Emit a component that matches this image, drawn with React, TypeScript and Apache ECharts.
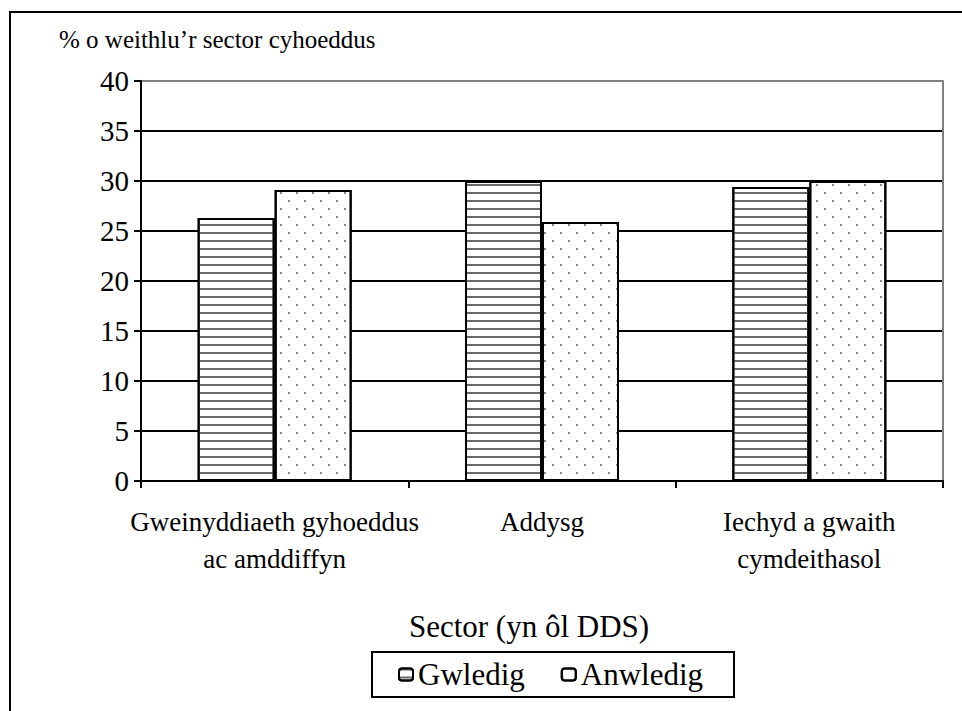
import React, { useEffect, useRef } from "react";
import * as echarts from "echarts";

const categories = [
  "Gweinyddiaeth gyhoeddus\nac amddiffyn",
  "Addysg",
  "Iechyd a gwaith\ncymdeithasol",
];
const seriesNames = ["Gwledig", "Anwledig"];
const gwledig = [26.3, 30.0, 29.4];
const anwledig = [29.1, 25.9, 30.0];
const yTicks = [0, 5, 10, 15, 20, 25, 30, 35, 40];
const yAxisTitle = "% o weithlu\u2019r sector cyhoeddus";
const xAxisTitle = "Sector (yn \u00f4l DDS)";

const FONT = "Liberation Serif";

export default function App() {
  const ref = useRef<HTMLDivElement>(null);
  useEffect(() => {
    if (!ref.current) return;
    const chart = echarts.init(ref.current, null, { renderer: "svg" });
    const splitColors = yTicks.map((t, i) => (i === yTicks.length - 1 ? "#808080" : "#000"));
    chart.setOption({
      animation: false,
      backgroundColor: "#fff",
      textStyle: { fontFamily: FONT, color: "#000" },
      title: {
        text: yAxisTitle,
        left: 54,
        top: 22,
        textStyle: { fontFamily: FONT, fontSize: 25, fontWeight: "normal", color: "#000" },
      },
      grid: { left: 141, top: 81, right: 19, bottom: 230, containLabel: false },
      legend: {
        data: seriesNames,
        left: 372,
        top: 652,
        width: 560,
        padding: [7, 31, 7, 26],
        borderColor: "#000",
        borderWidth: 2,
        itemWidth: 14,
        itemHeight: 12,
        itemGap: 36,
        textStyle: { fontFamily: FONT, fontSize: 31, color: "#000" },
      },
      xAxis: {
        type: "category",
        data: categories,
        axisLine: { lineStyle: { color: "#000", width: 2 } },
        axisTick: { show: true, length: 7, lineStyle: { color: "#000", width: 2 } },
        axisLabel: {
          interval: 0,
          margin: 22,
          fontFamily: FONT,
          fontSize: 27,
          lineHeight: 37,
          color: "#000",
        },
        name: xAxisTitle,
        nameLocation: "middle",
        nameGap: 130,
        nameTextStyle: { fontFamily: FONT, fontSize: 31, color: "#000", padding: [0, 26, 0, 0] },
      },
      yAxis: [
        {
          type: "value",
          min: 0,
          max: 40,
          interval: 5,
          axisLine: { show: true, lineStyle: { color: "#000", width: 2 } },
          axisTick: { show: true, length: 7, lineStyle: { color: "#000", width: 2 } },
          axisLabel: { margin: 12, fontFamily: FONT, fontSize: 29, color: "#000" },
          splitLine: { show: true, lineStyle: { color: splitColors, width: 2 } },
        },
        {
          type: "value",
          min: 0,
          max: 40,
          interval: 5,
          position: "right",
          axisLine: { show: true, lineStyle: { color: "#808080", width: 2 } },
          axisTick: { show: false },
          axisLabel: { show: false },
          splitLine: { show: false },
        },
      ],
      series: [
        {
          name: seriesNames[0],
          type: "bar",
          data: gwledig,
          barWidth: 77,
          barGap: "0%",
          itemStyle: {
            color: "#fff",
            borderColor: "#000",
            borderWidth: 2,
            decal: {
              symbol: "rect",
              symbolSize: 1,
              color: "#6a6a6a",
              dashArrayX: [1, 0],
              dashArrayY: [2, 6],
              rotation: 0,
            },
          },
        },
        {
          name: seriesNames[1],
          type: "bar",
          data: anwledig,
          barWidth: 77,
          barGap: "0%",
          itemStyle: {
            color: "#fff",
            borderColor: "#000",
            borderWidth: 2,
            decal: {
              symbol: "rect",
              symbolSize: 1,
              color: "#8a8a8a",
              dashArrayX: [
                [2, 14],
                [0, 8, 2, 6],
              ],
              dashArrayY: [2, 6],
              rotation: 0,
            },
          },
        },
      ],
      graphic: [
        {
          type: "rect",
          shape: { x: 10, y: 12, width: 980, height: 720 },
          style: { fill: "none", stroke: "#000", lineWidth: 2 },
          silent: true,
        },
      ],
    });
    return () => chart.dispose();
  }, []);
  return (
    <div
      ref={ref}
      style={{ position: "absolute", left: 0, top: 0, width: 962, height: 711 }}
    />
  );
}
